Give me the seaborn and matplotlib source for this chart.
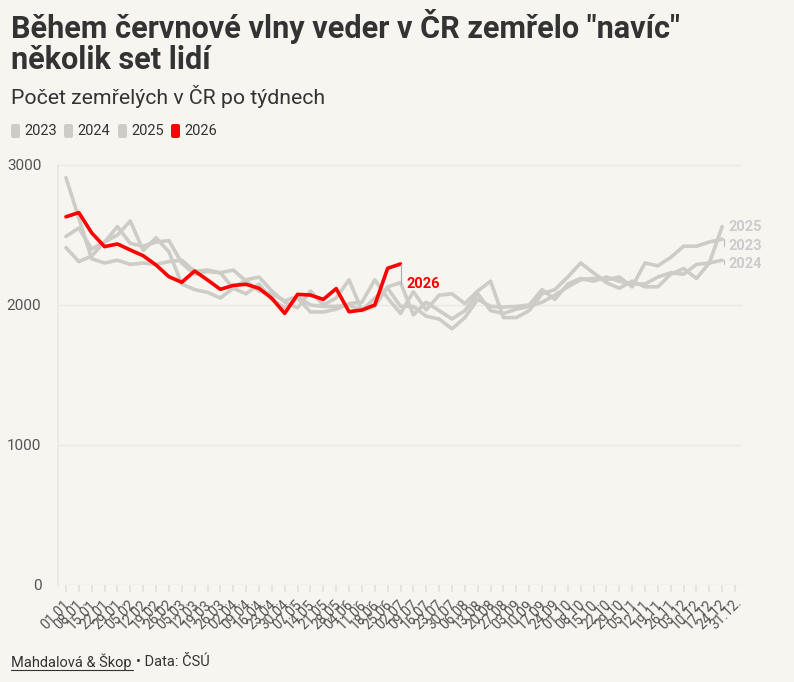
import numpy as np
import pandas as pd
import seaborn as sns
import matplotlib.pyplot as plt
from matplotlib.lines import Line2D
from matplotlib.patches import FancyBboxPatch

# weekly deaths (gray years: 52 weeks, 2026: up to early July)
weeks_2023 = [2910, 2620, 2330, 2300, 2320, 2290, 2300, 2290, 2310, 2320, 2240, 2250, 2230,
              2250, 2170, 2100, 2080, 2030, 2060, 2000, 1990, 1990, 2000, 1960, 1990, 2130,
              2160, 1930, 2020, 1960, 1900, 1960, 2080, 1960, 1940, 1970, 1990, 2020, 2070,
              2130, 2180, 2190, 2180, 2200, 2130, 2300, 2280, 2340, 2420, 2420, 2450, 2470]
weeks_2024 = [2490, 2550, 2400, 2450, 2560, 2440, 2420, 2450, 2460, 2300, 2220, 2240, 2230,
              2120, 2180, 2200, 2100, 2020, 1980, 2100, 2000, 2050, 2180, 1960, 2050, 2120,
              1990, 1990, 1920, 1900, 1830, 1910, 2040, 1990, 1985, 1990, 2000, 2110, 2040,
              2150, 2190, 2170, 2200, 2170, 2150, 2150, 2200, 2230, 2220, 2290, 2300, 2320]
weeks_2025 = [2410, 2310, 2350, 2450, 2500, 2600, 2390, 2480, 2380, 2150, 2110, 2090, 2050,
              2120, 2080, 2150, 2040, 1980, 2050, 1950, 1950, 1970, 2010, 2020, 2180, 2050,
              1940, 2095, 1965, 2070, 2080, 2010, 2100, 2170, 1910, 1910, 1960, 2080, 2110,
              2200, 2300, 2230, 2160, 2120, 2170, 2130, 2130, 2220, 2260, 2190, 2300, 2560]
weeks_2026 = [2630, 2660, 2515, 2417, 2436, 2393, 2352, 2286, 2202, 2162, 2243, 2179, 2112,
              2140, 2148, 2119, 2048, 1940, 2076, 2071, 2040, 2117, 1952, 1964, 2000, 2262, 2293]

tick_labels = ["01.01.", "08.01.", "15.01.", "22.01.", "29.01.", "05.02.", "12.02.", "19.02.",
               "26.02.", "05.03.", "12.03.", "19.03.", "26.03.", "02.04.", "09.04.", "16.04.",
               "23.04.", "30.04.", "07.05.", "14.05.", "21.05.", "28.05.", "04.06.", "11.06.",
               "18.06.", "25.06.", "02.07.", "09.07.", "16.07.", "23.07.", "30.07.", "06.08.",
               "13.08.", "20.08.", "27.08.", "03.09.", "10.09.", "17.09.", "24.09.", "01.10.",
               "08.10.", "15.10.", "22.10.", "29.10.", "05.11.", "12.11.", "19.11.", "26.11.",
               "03.12.", "10.12.", "17.12.", "24.12.", "31.12."]

series = {"2023": weeks_2023, "2024": weeks_2024, "2025": weeks_2025, "2026": weeks_2026}
rows = []
for year, vals in series.items():
    for i, v in enumerate(vals):
        rows.append({"year": year, "week": i, "deaths": v})
df = pd.DataFrame(rows)

bg = "#f7f5f0"
gray = "#cdccc7"
red = "#ff0000"
palette = {"2023": gray, "2024": gray, "2025": gray, "2026": red}

sns.set_theme(style="white")
plt.rcParams["font.family"] = ["Roboto", "DejaVu Sans"]

fig = plt.figure(figsize=(7.94, 6.82), dpi=100, facecolor=bg)
ax = fig.add_axes([58 / 794, 1 - 585 / 682, 684 / 794, 427 / 682])
ax.set_facecolor(bg)

# gray years first, red on top
sns.lineplot(data=df[df["year"] != "2026"], x="week", y="deaths", hue="year",
             palette=palette, linewidth=2.6, legend=False, ax=ax,
             solid_joinstyle="round", solid_capstyle="round")
sns.lineplot(data=df[df["year"] == "2026"], x="week", y="deaths", color=red,
             linewidth=2.6, legend=False, ax=ax,
             solid_joinstyle="round", solid_capstyle="round")

ax.set_xlim(-0.62, 52.54)
ax.set_ylim(0, 3050)
ax.set_yticks([0, 1000, 2000, 3000])
ax.set_yticklabels(["0", "1000", "2000", "3000"])
ax.set_xticks(range(len(tick_labels)))
ax.set_xticklabels(tick_labels, rotation=45, ha="right", rotation_mode="anchor")
ax.set_xlabel("")
ax.set_ylabel("")
ax.grid(axis="y", color="#ebe9e3", linewidth=1)
for s in ["top", "right", "bottom"]:
    ax.spines[s].set_visible(False)
ax.spines["left"].set_color("#ebe9e3")
ax.spines["left"].set_bounds(0, 3000)
ax.tick_params(axis="y", length=0, labelsize=11, labelcolor="#555555", pad=12)
ax.tick_params(axis="x", length=5, color="#e3e1db", labelsize=10, labelcolor="#555555", pad=2,
               bottom=True)

# end labels
end_labels = [("2025", weeks_2025[-1], 2560), ("2023", weeks_2023[-1], 2420), ("2024", weeks_2024[-1], 2290)]
for year, yend, ylab in end_labels:
    ax.plot([51.15, 51.15], [yend, ylab], color="#bbbbbb", linewidth=0.8)
    ax.text(51.5, ylab, year, color="#cccccc", fontsize=10.5, fontweight="bold", va="center")
ax.plot([26.05, 26.05], [weeks_2026[-1], 2150], color="#aaaaaa", linewidth=0.8)
ax.text(26.45, 2150, "2026", color=red, fontsize=10.5, fontweight="bold", va="center")

# title, subtitle
fig.text(11 / 794, 1 - 9 / 682, "Během červnové vlny veder v ČR zemřelo \"navíc\"\nněkolik set lidí",
         fontsize=22.1, fontweight="bold", color="#333333", va="top", ha="left", linespacing=1.05)
fig.text(11 / 794, 1 - 97 / 682, "Počet zemřelých v ČR po týdnech", fontsize=15.3,
         color="#333333", va="center", ha="left")

# legend: rounded swatches + labels
leg_x = [11, 64, 118, 171]
for x0, year in zip(leg_x, series):
    fig.patches.append(FancyBboxPatch((x0 / 794, 1 - 138 / 682), 9 / 794, 14 / 682,
                                      boxstyle="round,pad=0,rounding_size=0.003",
                                      transform=fig.transFigure, facecolor=palette[year],
                                      edgecolor="none"))
    fig.text((x0 + 13) / 794, 1 - 131 / 682, year, fontsize=10.5, color="#333333",
             va="center", ha="left")

# footer
fig.text(11 / 794, 1 - 662 / 682, "Mahdalová & Škop", fontsize=10.5, color="#333333",
         va="center", ha="left")
fig.lines.append(Line2D([11 / 794, 133 / 794], [1 - 670 / 682, 1 - 670 / 682],
                        transform=fig.transFigure, color="#333333", linewidth=0.8))
fig.text(136 / 794, 1 - 662 / 682, "• Data: ČSÚ", fontsize=10.5, color="#333333",
         va="center", ha="left")

fig.savefig("out.png", dpi=100, facecolor=bg)
